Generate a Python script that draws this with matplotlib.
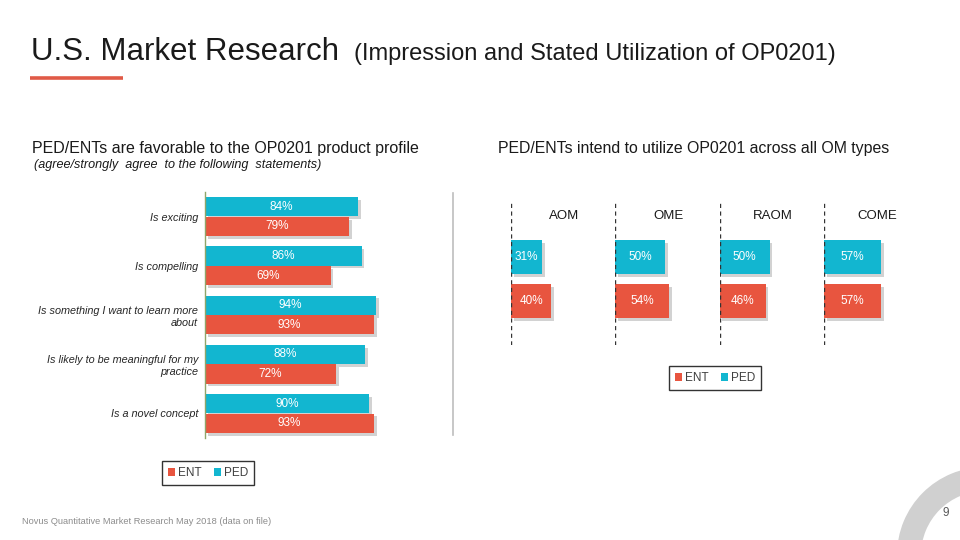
import matplotlib
matplotlib.use("Agg")
import matplotlib.pyplot as plt
import matplotlib.patheffects as pe
from matplotlib.patches import Wedge, Patch
from matplotlib.lines import Line2D

plt.rcParams['font.family'] = ['Liberation Sans', 'DejaVu Sans']

# ---------------- data ----------------
statements = ["Is exciting", "Is compelling", "Is something I want to learn more\nabout",
              "Is likely to be meaningful for my\npractice", "Is a novel concept"]
stmt_ped = [84, 86, 94, 88, 90]
stmt_ent = [79, 69, 93, 72, 93]

om_types = ["AOM", "OME", "RAOM", "COME"]
om_ped = [31, 50, 50, 57]
om_ent = [40, 54, 46, 57]

series_names = ["ENT", "PED"]
ENT_C = "#E8553F"
PED_C = "#12B6D0"

W, H = 960, 540
fig = plt.figure(figsize=(W / 100, H / 100), dpi=100)

# full-figure overlay in pixel coordinates (for decorations)
bg = fig.add_axes([0, 0, 1, 1], zorder=-5)
bg.set_xlim(0, W)
bg.set_ylim(H, 0)
bg.axis("off")

def ax_px(x0, y0, x1, y1):
    return fig.add_axes([x0 / W, 1 - y1 / H, (x1 - x0) / W, (y1 - y0) / H])

def ftxt(x, y, s, **kw):
    return fig.text(x / W, 1 - y / H, s, **kw)

shadow = [pe.SimplePatchShadow(offset=(2, -2), alpha=0.35, shadow_rgbFace="#7f7f7f"), pe.Normal()]

# ---------------- titles ----------------
ftxt(31, 60, "U.S. Market Research", fontsize=22.5, va="baseline", color="#1a1a1a")
ftxt(354, 60, "(Impression and Stated Utilization of OP0201)", fontsize=17, va="baseline", color="#1a1a1a")
bg.plot([30, 123], [78, 78], color="#E05A47", lw=2.6, solid_capstyle="butt")

ftxt(32, 153, "PED/ENTs are favorable to the OP0201 product profile", fontsize=11.5, va="baseline", color="#1a1a1a")
ftxt(34, 168, "(agree/strongly  agree  to the following  statements)", fontsize=9.1, style="italic",
     va="baseline", color="#1a1a1a")
ftxt(498, 153, "PED/ENTs intend to utilize OP0201 across all OM types", fontsize=11.4, va="baseline", color="#1a1a1a")

# ---------------- left chart ----------------
axL = ax_px(205, 192, 387, 438)
n = len(statements)
ys = list(range(n))
bh = 0.39
bp = axL.barh([y - 0.2 for y in ys], stmt_ped, height=bh, color=PED_C, zorder=2)
be = axL.barh([y + 0.2 for y in ys], stmt_ent, height=bh, color=ENT_C, zorder=2)
for b in list(bp) + list(be):
    b.set_path_effects(shadow)
for y, v in zip(ys, stmt_ped):
    axL.text(v / 2, y - 0.2, f"{v}%", ha="center", va="center", color="white", fontsize=8.5)
for y, v in zip(ys, stmt_ent):
    axL.text(v / 2, y + 0.2, f"{v}%", ha="center", va="center", color="white", fontsize=8.5)
axL.set_xlim(0, 100)
axL.set_ylim(n - 0.5, -0.5)
axL.set_yticks(ys)
axL.set_yticklabels(statements, fontsize=7.8, style="italic", color="#262626")
axL.tick_params(axis="y", length=0, pad=5)
axL.set_xticks([])
for s in ["top", "right", "bottom"]:
    axL.spines[s].set_visible(False)
axL.spines["left"].set_color("#8FA66A")
axL.spines["left"].set_linewidth(1)
axL.patch.set_alpha(0)

# separator line
bg.plot([453, 453], [193, 435], color="#BDBDBD", lw=1.2)

# ---------------- right small multiples ----------------
px_per_unit = 44.0
for i, (name, p, e) in enumerate(zip(om_types, om_ped, om_ent)):
    x0 = 511 + i * 104.3
    ax = ax_px(x0, 203, x0 + 100, 345)
    ax.set_xlim(0, 100)
    ax.set_ylim(2.0, -54 / px_per_unit)
    b1 = ax.barh([0], [p], height=0.77, color=PED_C, zorder=2)
    b2 = ax.barh([1], [e], height=0.77, color=ENT_C, zorder=2)
    for b in list(b1) + list(b2):
        b.set_path_effects(shadow)
    ax.text(p / 2, 0, f"{p}%", ha="center", va="center", color="white", fontsize=8.5)
    ax.text(e / 2, 1, f"{e}%", ha="center", va="center", color="white", fontsize=8.5)
    ax.axvline(0, color="#333333", lw=1, ls=(0, (3, 2.5)), zorder=3)
    ax.text(53, (216 - 257) / px_per_unit, name, ha="center", va="center", fontsize=9.5, color="#1a1a1a")
    ax.axis("off")

# ---------------- legends ----------------
handles = [Patch(facecolor=ENT_C, edgecolor="none"), Patch(facecolor=PED_C, edgecolor="none")]

def add_legend(cx, cy):
    lg = fig.legend(handles, series_names, loc="center", bbox_to_anchor=(cx / W, 1 - cy / H), ncol=2,
                    frameon=True, fontsize=8.5, handlelength=0.6, handleheight=0.6, handletextpad=0.3,
                    columnspacing=1.0, borderpad=0.5, fancybox=False, labelcolor="#404040")
    lg.get_frame().set_edgecolor("black")
    lg.get_frame().set_linewidth(1)
    return lg

add_legend(208, 473)
add_legend(715, 378)

# ---------------- footer ----------------
ftxt(22, 524, "Novus Quantitative Market Research May 2018 (data on file)", fontsize=6.7, va="baseline", color="#8c8c8c")
bg.add_patch(Wedge((985, 555), 88, 0, 360, width=24, facecolor="#D0D0D0", edgecolor="none"))
ftxt(946, 513, "9", fontsize=8.5, ha="center", va="center", color="#595959")

fig.savefig("out.png", dpi=100)
